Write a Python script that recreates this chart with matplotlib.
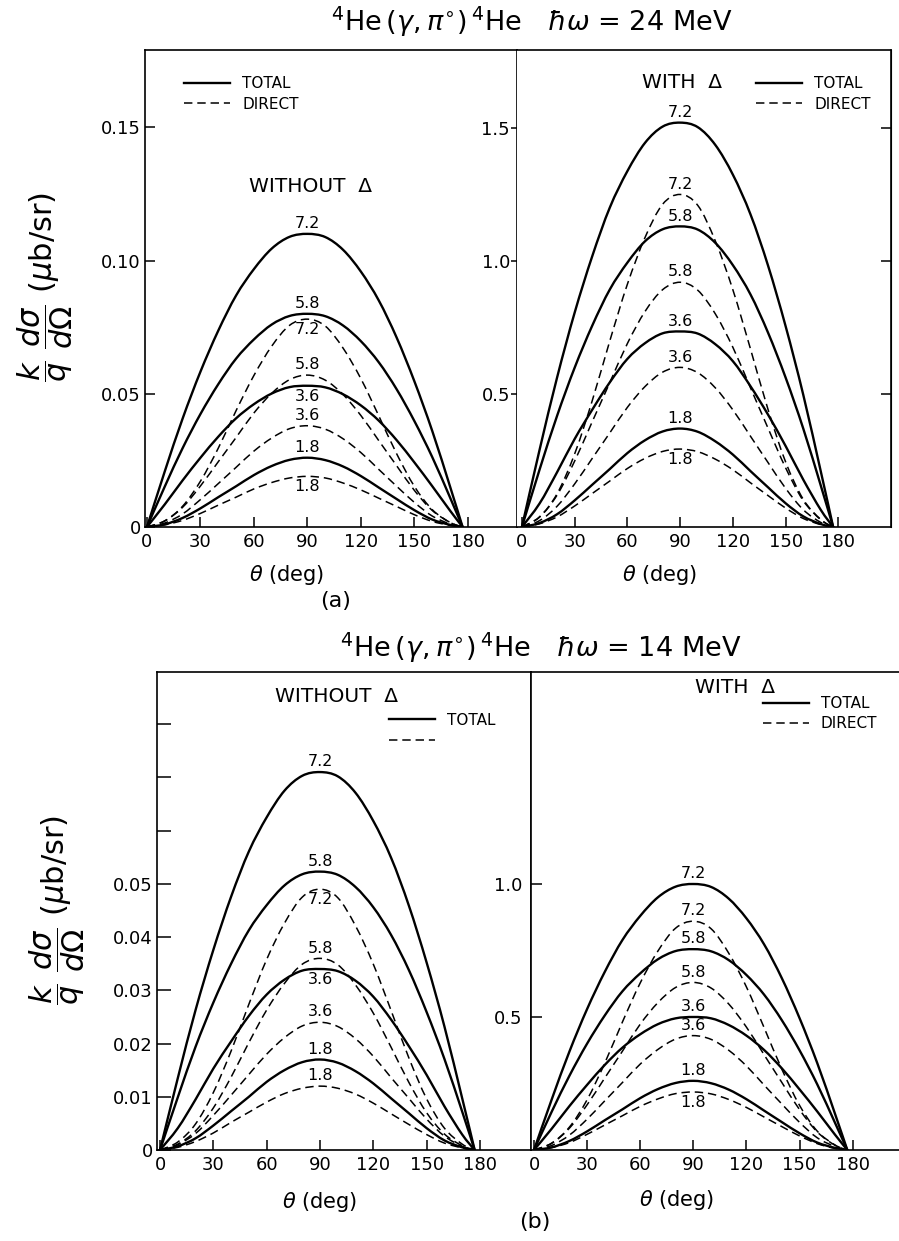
import matplotlib
matplotlib.use("Agg")
import matplotlib.pyplot as plt
from matplotlib.lines import Line2D
from matplotlib.path import Path
from matplotlib.patches import PathPatch

# angles (deg)
theta = [0, 10, 20, 30, 40, 50, 60, 70, 80, 90, 100, 110, 120, 130, 140, 150, 160, 170, 177]
energies = ["7.2", "5.8", "3.6", "1.8"]

x_ticks = [0, 30, 60, 90, 120, 150, 180]
x_ticklabels = ["0", "30", "60", "90", "120", "150", "180"]

# (a) 24 MeV, without Delta  -- rows: 7.2, 5.8, 3.6, 1.8
tl_total = [
    [0, 0.0209, 0.0407, 0.0583, 0.0737, 0.0869, 0.0968, 0.1045, 0.1089, 0.110, 0.1088, 0.1040, 0.0958, 0.0850, 0.0711, 0.0546, 0.0360, 0.0151, 0],
    [0, 0.0152, 0.0296, 0.0424, 0.0536, 0.0632, 0.0704, 0.0760, 0.0792, 0.080, 0.0791, 0.0756, 0.0697, 0.0618, 0.0517, 0.0397, 0.0262, 0.0110, 0],
    [0, 0.0085, 0.0175, 0.0260, 0.0339, 0.0408, 0.0461, 0.0501, 0.0525, 0.053, 0.0524, 0.0498, 0.0456, 0.0399, 0.0326, 0.0242, 0.0153, 0.0061, 0],
    [0, 0.0010, 0.0034, 0.0070, 0.0112, 0.0153, 0.0195, 0.0229, 0.0252, 0.026, 0.0251, 0.0227, 0.0191, 0.0148, 0.0105, 0.0063, 0.0028, 0.0008, 0],
]
tl_direct = [
    [0, 0.0023, 0.0078, 0.0172, 0.0296, 0.0437, 0.0569, 0.0679, 0.0757, 0.078, 0.0754, 0.0671, 0.0556, 0.0417, 0.0275, 0.0152, 0.0065, 0.0017, 0],
    [0, 0.0023, 0.0074, 0.0154, 0.0245, 0.0336, 0.0428, 0.0502, 0.0553, 0.057, 0.0551, 0.0497, 0.0418, 0.0324, 0.0230, 0.0137, 0.0062, 0.0017, 0],
    [0, 0.0015, 0.0049, 0.0103, 0.0163, 0.0224, 0.0285, 0.0334, 0.0369, 0.038, 0.0367, 0.0331, 0.0279, 0.0216, 0.0153, 0.0092, 0.0041, 0.0011, 0],
    [0, 0.0008, 0.0025, 0.0051, 0.0082, 0.0112, 0.0143, 0.0167, 0.0184, 0.019, 0.0184, 0.0165, 0.0139, 0.0108, 0.0077, 0.0046, 0.0021, 0.0006, 0],
]

# (a) 24 MeV, with Delta
tr_total = [
    [0, 0.289, 0.562, 0.806, 1.018, 1.201, 1.338, 1.444, 1.505, 1.52, 1.503, 1.436, 1.324, 1.175, 0.982, 0.754, 0.497, 0.208, 0],
    [0, 0.215, 0.418, 0.599, 0.757, 0.893, 0.994, 1.074, 1.119, 1.13, 1.118, 1.068, 0.984, 0.874, 0.730, 0.561, 0.370, 0.155, 0],
    [0, 0.088, 0.206, 0.331, 0.441, 0.544, 0.632, 0.691, 0.728, 0.735, 0.727, 0.687, 0.623, 0.529, 0.422, 0.304, 0.178, 0.064, 0],
    [0, 0.015, 0.048, 0.100, 0.159, 0.218, 0.278, 0.326, 0.359, 0.37, 0.358, 0.322, 0.272, 0.210, 0.149, 0.089, 0.040, 0.011, 0],
]
tr_direct = [
    [0, 0.038, 0.125, 0.275, 0.475, 0.700, 0.913, 1.088, 1.213, 1.25, 1.209, 1.075, 0.891, 0.669, 0.441, 0.244, 0.104, 0.028, 0],
    [0, 0.037, 0.120, 0.248, 0.396, 0.543, 0.690, 0.810, 0.892, 0.92, 0.890, 0.801, 0.675, 0.523, 0.371, 0.222, 0.099, 0.027, 0],
    [0, 0.024, 0.078, 0.162, 0.258, 0.354, 0.450, 0.528, 0.582, 0.60, 0.580, 0.523, 0.440, 0.341, 0.242, 0.145, 0.065, 0.017, 0],
    [0, 0.012, 0.038, 0.079, 0.126, 0.173, 0.220, 0.258, 0.284, 0.293, 0.283, 0.255, 0.215, 0.166, 0.118, 0.071, 0.032, 0.009, 0],
]

# (b) 14 MeV, without Delta
bl_total = [
    [0, 0.0135, 0.0263, 0.0376, 0.0476, 0.0561, 0.0625, 0.0675, 0.0703, 0.071, 0.0702, 0.0671, 0.0618, 0.0549, 0.0459, 0.0352, 0.0232, 0.0097, 0],
    [0, 0.0099, 0.0194, 0.0277, 0.0350, 0.0413, 0.0460, 0.0497, 0.0518, 0.0523, 0.0517, 0.0494, 0.0456, 0.0404, 0.0338, 0.0259, 0.0171, 0.0072, 0],
    [0, 0.0041, 0.0095, 0.0153, 0.0204, 0.0252, 0.0292, 0.0320, 0.0337, 0.034, 0.0336, 0.0318, 0.0288, 0.0245, 0.0195, 0.0141, 0.0082, 0.0029, 0],
    [0, 0.0007, 0.0022, 0.0046, 0.0073, 0.0100, 0.0128, 0.0150, 0.0165, 0.017, 0.0164, 0.0148, 0.0125, 0.0097, 0.0069, 0.0041, 0.0018, 0.0005, 0],
]
bl_direct = [
    [0, 0.0015, 0.0049, 0.0108, 0.0186, 0.0274, 0.0358, 0.0426, 0.0475, 0.049, 0.0474, 0.0421, 0.0349, 0.0262, 0.0173, 0.0096, 0.0041, 0.0011, 0],
    [0, 0.0011, 0.0036, 0.0079, 0.0137, 0.0202, 0.0263, 0.0313, 0.0349, 0.036, 0.0348, 0.0310, 0.0257, 0.0193, 0.0127, 0.0070, 0.0030, 0.0008, 0],
    [0, 0.0010, 0.0031, 0.0065, 0.0103, 0.0142, 0.0180, 0.0211, 0.0233, 0.024, 0.0232, 0.0209, 0.0176, 0.0136, 0.0097, 0.0058, 0.0026, 0.0007, 0],
    [0, 0.0005, 0.0016, 0.0032, 0.0052, 0.0071, 0.0090, 0.0106, 0.0116, 0.012, 0.0116, 0.0105, 0.0088, 0.0068, 0.0048, 0.0029, 0.0013, 0.0004, 0],
]

# (b) 14 MeV, with Delta
br_total = [
    [0, 0.190, 0.370, 0.530, 0.670, 0.790, 0.880, 0.950, 0.990, 1.0, 0.989, 0.945, 0.871, 0.773, 0.646, 0.496, 0.327, 0.137, 0],
    [0, 0.144, 0.279, 0.400, 0.506, 0.597, 0.664, 0.717, 0.748, 0.755, 0.747, 0.714, 0.658, 0.584, 0.488, 0.375, 0.247, 0.103, 0],
    [0, 0.080, 0.165, 0.245, 0.320, 0.385, 0.435, 0.473, 0.495, 0.50, 0.495, 0.470, 0.430, 0.376, 0.307, 0.228, 0.145, 0.058, 0],
    [0, 0.010, 0.034, 0.070, 0.112, 0.153, 0.195, 0.229, 0.252, 0.26, 0.251, 0.227, 0.191, 0.148, 0.105, 0.063, 0.028, 0.008, 0],
]
br_direct = [
    [0, 0.026, 0.086, 0.189, 0.327, 0.482, 0.628, 0.748, 0.834, 0.86, 0.832, 0.740, 0.613, 0.460, 0.304, 0.168, 0.071, 0.019, 0],
    [0, 0.025, 0.082, 0.170, 0.271, 0.372, 0.473, 0.554, 0.611, 0.63, 0.609, 0.549, 0.462, 0.358, 0.254, 0.152, 0.068, 0.018, 0],
    [0, 0.017, 0.056, 0.116, 0.185, 0.254, 0.323, 0.378, 0.417, 0.43, 0.416, 0.375, 0.316, 0.244, 0.173, 0.104, 0.046, 0.013, 0],
    [0, 0.009, 0.028, 0.059, 0.094, 0.129, 0.164, 0.192, 0.212, 0.218, 0.211, 0.190, 0.160, 0.124, 0.088, 0.053, 0.024, 0.006, 0],
]

plt.rcParams["font.family"] = "DejaVu Sans"
plt.rcParams["mathtext.fontset"] = "dejavusans"

W, H = 899, 1241
fig = plt.figure(figsize=(W / 100, H / 100), dpi=100)


def box(l, t, r, b):
    # pixel box of the scan -> figure fraction
    return [l / W, 1 - b / H, (r - l) / W, (b - t) / H]


ax_tl = fig.add_axes(box(145, 50, 517, 527))
ax_tr = fig.add_axes(box(517, 50, 891, 527))
ax_bl = fig.add_axes(box(157, 672, 531, 1150))
ax_br = fig.add_axes(box(531, 672, 899, 1150))


def smooth(xs, ys):
    # smooth drawing through the read points (Catmull-Rom as cubic Bezier)
    n = len(xs)
    verts = [(xs[0], ys[0])]
    codes = [Path.MOVETO]
    for i in range(n - 1):
        a, b = max(i - 1, 0), min(i + 2, n - 1)
        c1 = (xs[i] + (xs[i + 1] - xs[a]) / 6, ys[i] + (ys[i + 1] - ys[a]) / 6)
        c2 = (xs[i + 1] - (xs[b] - xs[i]) / 6, ys[i + 1] - (ys[b] - ys[i]) / 6)
        verts += [c1, c2, (xs[i + 1], ys[i + 1])]
        codes += [Path.CURVE4] * 3
    return Path(verts, codes)


def label(ax, lab, ys, up):
    ax.annotate(lab, (90, max(ys)), xytext=(0, 2 if up else -2), textcoords="offset points",
                ha="center", va="bottom" if up else "top", fontsize=11.5)


def draw(ax, totals, directs, t_up, d_up):
    for lab, ys, up in zip(energies, totals, t_up):
        ax.add_patch(PathPatch(smooth(theta, ys), fill=False, edgecolor="black", lw=1.7,
                               joinstyle="round", capstyle="round"))
        label(ax, lab, ys, up)
    for lab, ys, up in zip(energies, directs, d_up):
        ax.add_patch(PathPatch(smooth(theta, ys), fill=False, edgecolor="black", lw=1.1,
                               linestyle=(0, (5.5, 3.2))))
        label(ax, lab, ys, up)


draw(ax_tl, tl_total, tl_direct, [True, True, False, True], [False, True, True, False])
draw(ax_tr, tr_total, tr_direct, [True, True, True, True], [True, True, True, False])
draw(ax_bl, bl_total, bl_direct, [True, True, False, True], [False, True, True, True])
draw(ax_br, br_total, br_direct, [True, True, True, True], [True, True, True, False])

for ax in (ax_tl, ax_tr, ax_bl, ax_br):
    ax.set_xticks(x_ticks)
    ax.set_xticklabels(x_ticklabels)
    ax.tick_params(axis="x", direction="in", length=7, width=1.1, labelsize=13, pad=4)
    for s in ax.spines.values():
        s.set_linewidth(1.2)

# limits
ax_tl.set_xlim(-1.1, 207.5)
ax_tl.set_ylim(0, 0.179)
ax_tr.set_xlim(-2.8, 209.9)
ax_tr.set_ylim(0, 1.793)
ax_bl.set_xlim(-1.7, 208.7)
ax_bl.set_ylim(0, 0.0898)
ax_br.set_xlim(-1.7, 206.2)
ax_br.set_ylim(0, 1.797)

# y ticks
ax_tl.set_yticks([0, 0.05, 0.10, 0.15])
ax_tl.set_yticklabels(["0", "0.05", "0.10", "0.15"])
ax_tl.tick_params(axis="y", direction="in", length=7, width=1.1, labelsize=13, pad=3)

ax_tr.set_yticks([0.5, 1.0, 1.5])
ax_tr.set_yticklabels(["0.5", "1.0", "1.5"])
ax_tr.tick_params(axis="y", direction="out", length=4, width=1.1, labelsize=13, pad=1)
ax_tr.spines["left"].set_visible(False)
sec = ax_tr.secondary_yaxis("right")
sec.set_yticks([0.5, 1.0, 1.5])
sec.tick_params(axis="y", direction="in", length=7, width=1.1, labelright=False)

ax_bl.set_yticks([0, 0.01, 0.02, 0.03, 0.04, 0.05, 0.06, 0.07, 0.08])
ax_bl.set_yticklabels(["0", "0.01", "0.02", "0.03", "0.04", "0.05", "", "", ""])
ax_bl.tick_params(axis="y", direction="in", length=10, width=1.1, labelsize=13, pad=3)

ax_br.set_yticks([0.5, 1.0])
ax_br.set_yticklabels(["0.5", "1.0"])
ax_br.tick_params(axis="y", direction="in", length=8, width=1.1, labelsize=13, pad=6)
ax_br.spines["right"].set_visible(False)

# legends
h_tot = Line2D([], [], color="black", lw=1.7)
h_dir = Line2D([], [], color="black", lw=1.1, dashes=(5.5, 3.2))
leg_kw = dict(frameon=False, fontsize=11, handlelength=3.0, handletextpad=0.8,
              labelspacing=0.35, borderpad=0, borderaxespad=0, loc="upper left")
ax_tl.legend([h_tot, h_dir], ["TOTAL", "DIRECT"], bbox_to_anchor=(0.105, 0.945), **leg_kw)
ax_tr.legend([h_tot, h_dir], ["TOTAL", "DIRECT"], bbox_to_anchor=(0.64, 0.945), **leg_kw)
ax_bl.legend([h_tot, h_dir], ["TOTAL", ""], bbox_to_anchor=(0.62, 0.915), **leg_kw)
ax_br.legend([h_tot, h_dir], ["TOTAL", "DIRECT"], bbox_to_anchor=(0.63, 0.95), **leg_kw)

txt_kw = dict(ha="center", va="center", fontsize=14.5)
ax_tl.text(0.444, 0.713, "WITHOUT  Δ", transform=ax_tl.transAxes, **txt_kw)
ax_tr.text(0.44, 0.931, "WITH  Δ", transform=ax_tr.transAxes, **txt_kw)
ax_bl.text(0.48, 0.948, "WITHOUT  Δ", transform=ax_bl.transAxes, **txt_kw)
ax_br.text(0.555, 0.967, "WITH  Δ", transform=ax_br.transAxes, **txt_kw)

# titles, axis labels
fig.text(0.592, 1 - 22 / H, r"$^4$He$\,(\gamma,\pi^{\circ})\,^4$He   $\hbar\omega$ = 24 MeV",
         ha="center", va="center", fontsize=19.5)
fig.text(0.602, 1 - 648 / H, r"$^4$He$\,(\gamma,\pi^{\circ})\,^4$He   $\hbar\omega$ = 14 MeV",
         ha="center", va="center", fontsize=19.5)

ylab = r"$\dfrac{k}{q}\ \dfrac{d\sigma}{d\Omega}\ (\mu$b/sr)"
fig.text(45 / W, 1 - 287 / H, ylab, rotation=90, ha="center", va="center", fontsize=22)
fig.text(57 / W, 1 - 910 / H, ylab, rotation=90, ha="center", va="center", fontsize=22)

xlab = r"$\theta$ (deg)"
fig.text(287 / W, 1 - 575 / H, xlab, ha="center", va="center", fontsize=15)
fig.text(660 / W, 1 - 575 / H, xlab, ha="center", va="center", fontsize=15)
fig.text(320 / W, 1 - 1202 / H, xlab, ha="center", va="center", fontsize=15)
fig.text(677 / W, 1 - 1200 / H, xlab, ha="center", va="center", fontsize=15)

fig.text(336 / W, 1 - 601 / H, "(a)", ha="center", va="center", fontsize=16)
fig.text(535 / W, 1 - 1222 / H, "(b)", ha="center", va="center", fontsize=16)

fig.savefig("out.png", dpi=100)
